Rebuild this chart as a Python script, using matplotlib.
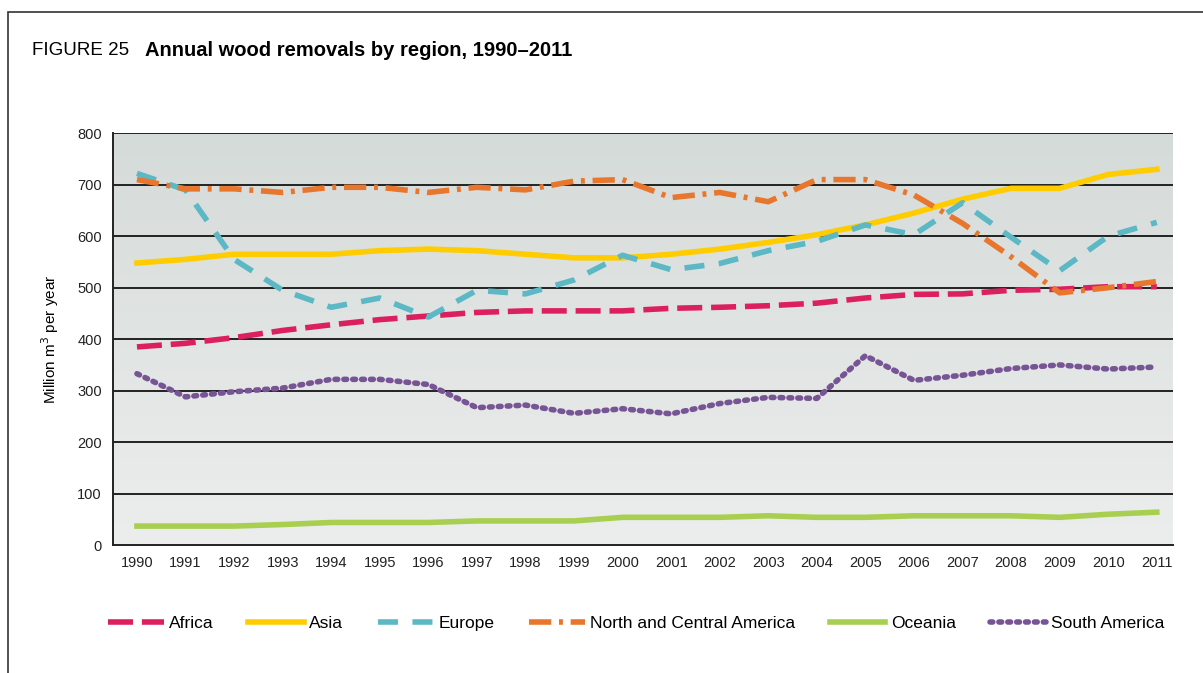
import numpy as np
import matplotlib.pyplot as plt
from matplotlib.patches import Rectangle
from matplotlib.lines import Line2D
from matplotlib.colors import LinearSegmentedColormap

plt.rcParams['font.family'] = ['Liberation Sans', 'DejaVu Sans']

years = list(range(1990, 2012))
africa = [385, 392, 403, 417, 428, 438, 445, 452, 455, 455, 455, 460, 462, 465, 470, 480, 487, 488, 495, 497, 502, 502]
asia = [548, 555, 565, 565, 565, 572, 575, 572, 565, 558, 558, 565, 575, 588, 603, 622, 645, 672, 693, 693, 720, 730]
europe = [722, 690, 555, 495, 462, 480, 443, 495, 488, 515, 563, 535, 547, 572, 590, 622, 603, 665, 598, 533, 600, 627]
nc_america = [710, 692, 692, 685, 695, 695, 685, 695, 690, 707, 710, 675, 685, 667, 710, 710, 680, 625, 560, 490, 500, 512]
oceania = [37, 37, 37, 40, 44, 44, 44, 47, 47, 47, 54, 54, 54, 57, 54, 54, 57, 57, 57, 54, 60, 64]
s_america = [333, 288, 298, 305, 322, 322, 312, 267, 272, 256, 265, 255, 275, 287, 285, 368, 320, 330, 343, 350, 342, 346]

fig = plt.figure(figsize=(12.03, 6.73), dpi=100)
ax = fig.add_axes([0.0939, 0.190, 0.881, 0.612])

# background gradient
grad = np.linspace(0, 1, 256).reshape(-1, 1)
bg = LinearSegmentedColormap.from_list('bg', ['#eceeed', '#d5dbd9'])
ax.imshow(grad, aspect='auto', cmap=bg, origin='lower',
          extent=[1989.506, 2011.33, 0, 800], zorder=0)

for v in range(100, 801, 100):
    ax.axhline(v, color='#222222', lw=1.4, zorder=1)

lw = 4
styles = {
    'Africa': dict(color='#dc1f5e', dashes=(4.5, 1.6)),
    'Asia': dict(color='#ffcc00'),
    'Europe': dict(color='#5bb8c4', dashes=(3.6, 2.6)),
    'North and Central America': dict(color='#e8762c', dashes=(4, 1.4, 0.7, 1.4)),
    'Oceania': dict(color='#a8cf50'),
    'South America': dict(color='#775595', dashes=(0.5, 1.1), dash_capstyle='round'),
}
series = [africa, asia, europe, nc_america, oceania, s_america]
labels = list(styles.keys())

handles = []
for name, vals in zip(labels, series):
    ax.plot(years, vals, lw=lw, zorder=3, **styles[name])
    handles.append(Line2D([], [], lw=lw, **styles[name]))

ax.set_xlim(1989.506, 2011.33)
ax.set_ylim(0, 800)
ax.set_xticks(years)
ax.set_yticks(range(0, 801, 100))
ax.tick_params(length=0, labelsize=10.5, colors='#222222', pad=8)
ax.spines['top'].set_visible(False)
ax.spines['right'].set_visible(False)
for s in ['left', 'bottom']:
    ax.spines[s].set_linewidth(1.4)
    ax.spines[s].set_color('#222222')
ax.set_ylabel('Million m$^3$ per year', fontsize=11, labelpad=12)

fig.legend(handles, labels, loc='center', bbox_to_anchor=(0.529, 0.073), ncol=6,
           frameon=False, fontsize=12.5, handlelength=3.2, handletextpad=0.3,
           columnspacing=2.0)

fig.text(0.0266, 0.925, 'FIGURE 25', fontsize=13.5, va='center')
fig.text(0.1205, 0.925, 'Annual wood removals by region, 1990–2011', fontsize=14.5,
         fontweight='bold', va='center')

fig.patches.append(Rectangle((8 / 1203, -0.02), 1.1, 1 - 12 / 673 + 0.02,
                             transform=fig.transFigure, fill=False,
                             edgecolor='#333333', lw=1.2))

fig.savefig('out.png', dpi=100)
